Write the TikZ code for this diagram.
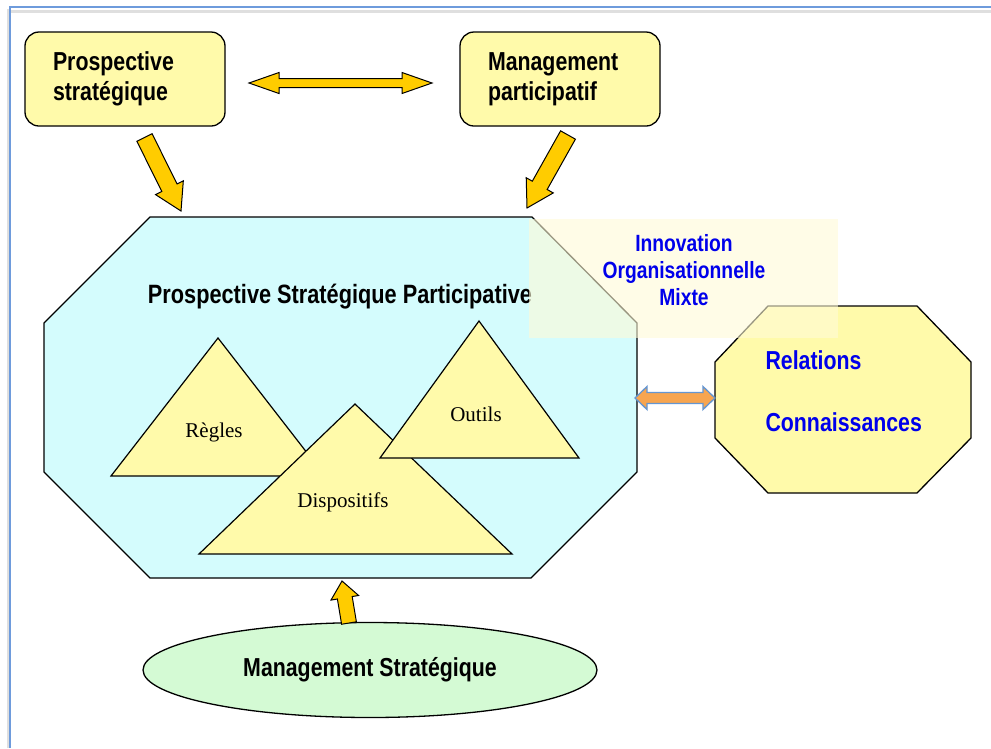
\documentclass[tikz,border=0pt]{standalone}
\usepackage{fontspec}
\setmainfont{Liberation Serif}
\newfontfamily\narrowsf[FakeStretch=0.82]{Liberation Sans}
\usetikzlibrary{calc,shapes.geometric}
\definecolor{boxyellow}{RGB}{255,250,170}
\definecolor{gold}{RGB}{255,204,0}
\definecolor{cyanfill}{RGB}{212,252,253}
\definecolor{greenfill}{RGB}{212,250,212}
\definecolor{ivory}{RGB}{255,250,215}
\definecolor{txtblue}{RGB}{0,0,235}
\definecolor{framecol}{RGB}{110,155,220}
\definecolor{orangefill}{RGB}{247,165,80}
\definecolor{steel}{RGB}{100,150,210}
\newcommand\blockarrow[6]{%
 \coordinate (#1-h) at ($(#2)!#5!(#1)$);
 \draw[#6] ($(#1)!#3!90:(#2)$) -- ($(#1-h)!#3!90:(#2)$) -- ($(#1-h)!#4!90:(#2)$) -- (#2) -- ($(#1-h)!#4!-90:(#2)$) -- ($(#1-h)!#3!-90:(#2)$) -- ($(#1)!#3!-90:(#2)$) -- cycle;}
\newcommand\dblarrow[6]{%
 \coordinate (#1-ha) at ($(#1)!#5!(#2)$);
 \coordinate (#1-hb) at ($(#2)!#5!(#1)$);
 \draw[#6] (#1) -- ($(#1-ha)!#4!90:(#2)$) -- ($(#1-ha)!#3!90:(#2)$) -- ($(#1-hb)!#3!90:(#2)$) -- ($(#1-hb)!#4!90:(#2)$) -- (#2) -- ($(#1-hb)!#4!-90:(#2)$) -- ($(#1-hb)!#3!-90:(#2)$) -- ($(#1-ha)!#3!-90:(#2)$) -- ($(#1-ha)!#4!-90:(#2)$) -- cycle;}
\tikzset{
 bigtxt/.style={font=\narrowsf\bfseries\fontsize{26}{30}\selectfont},
 box/.style={draw=black, line width=1.3pt, fill=boxyellow, rounded corners=14pt, minimum width=200pt, minimum height=94pt, inner xsep=0pt, text width=144pt, align=left, bigtxt},
 tri/.style={draw=black, line width=1.2pt, fill=boxyellow, line join=miter},
 trilabel/.style={font=\fontsize{21}{24}\selectfont},
 goldarrow/.style={draw=black, line width=1pt, fill=gold},
 orangearrow/.style={draw=steel, line width=1.3pt, fill=orangefill},
 octo/.style={draw=black, line width=1.3pt}
}
\begin{document}
\begin{tikzpicture}[x=1pt,y=-1pt]
\useasboundingbox (0,0) rectangle (991,748);
\fill[white] (0,0) rectangle (991,748);
% frame
\draw[gray!25, line width=3pt] (10,11) -- (991,11);
\draw[gray!25, line width=2pt] (7.5,748) -- (7.5,9);
\draw[framecol, line width=1.5pt] (10,748) -- (10,7) -- (991,7);
% top boxes
\node[box] (ps) at (125,79) {Prospective\\strat\'egique};
\node[box] (mp) at (560,79) {Management\\participatif};
% main octagon
\draw[octo, fill=cyanfill] (44,323) -- (150,217) -- (532,217) -- (637,323) -- (637,472) -- (531,578) -- (150,578) -- (44,472) -- cycle;
\node[bigtxt, font=\narrowsf\bfseries\fontsize{26.5}{30}\selectfont] (psp) at (340,297) {Prospective Strat\'egique Participative};
% triangles
\draw[tri] (111,476) -- (218,338) -- (325,476) -- cycle;
\node[trilabel] (regles) at (214,432) {R\`egles};
\draw[tri] (199,554) -- (355,404) -- (512,554) -- cycle;
\node[trilabel] (disp) at (343,502) {Dispositifs};
\draw[tri] (380,458) -- (479,321) -- (579,458) -- cycle;
\node[trilabel] (outils) at (476,414) {Outils};
% relations octagon
\draw[octo, fill=boxyellow] (715,362) -- (768,306) -- (917,306) -- (971,362) -- (971,438) -- (917,493) -- (768,493) -- (715,438) -- cycle;
\node[bigtxt, text=txtblue, anchor=west] (rel) at (762,360) {Relations};
\node[bigtxt, text=txtblue, anchor=west] (conn) at (762,422) {Connaissances};
% innovation overlay
\fill[ivory, opacity=0.6] (529,219) rectangle (838,338);
\node[text=txtblue, font=\narrowsf\bfseries\fontsize{23.5}{27}\selectfont, align=center] (inno) at (684,270) {Innovation\\Organisationnelle\\Mixte};
% ellipse
\node[ellipse, draw=black, line width=1.3pt, fill=greenfill, minimum width=454pt, minimum height=95pt, bigtxt] (ms) at (370,670) {Management Strat\'egique};
% arrow coordinates
\coordinate (h1) at (249,83);
\coordinate (h2) at (432,83);
\coordinate (a1) at (144.5,137.5);
\coordinate (b1) at (181,211);
\coordinate (a2) at (568,135);
\coordinate (b2) at (527,208);
\coordinate (a3) at (349,623);
\coordinate (b3) at (342,581);
\coordinate (o1) at (635,398);
\coordinate (o2) at (715,398);
\dblarrow{h1}{h2}{4.5pt}{10.5pt}{30pt}{goldarrow}
\blockarrow{a1}{b1}{8.5pt}{15.5pt}{26pt}{goldarrow}
\blockarrow{a2}{b2}{8.5pt}{15.5pt}{26pt}{goldarrow}
\blockarrow{a3}{b3}{7.5pt}{14pt}{17pt}{goldarrow}
\dblarrow{o1}{o2}{5.5pt}{11.5pt}{12pt}{orangearrow}
\end{tikzpicture}
\end{document}
